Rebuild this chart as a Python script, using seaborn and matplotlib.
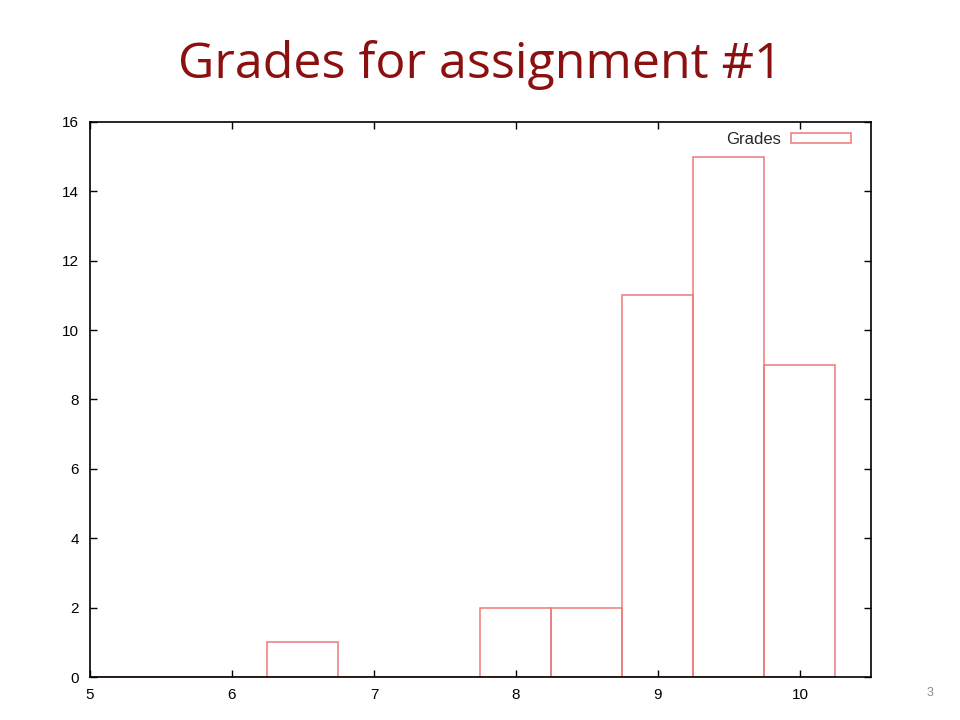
import numpy as np
import pandas as pd
import matplotlib
matplotlib.use("Agg")
import matplotlib.pyplot as plt
import seaborn as sns
from matplotlib.patches import Rectangle

sns.set_style("ticks")
plt.rcParams['font.family'] = ['Liberation Sans', 'DejaVu Sans']

# grade bins (centres) and how many students landed in each
grade_centres = [5.0, 5.5, 6.0, 6.5, 7.0, 7.5, 8.0, 8.5, 9.0, 9.5, 10.0]
grade_counts = [0, 0, 0, 1, 0, 0, 2, 2, 11, 15, 9]
y_ticks = [0, 2, 4, 6, 8, 10, 12, 14, 16]
x_ticks = [5, 6, 7, 8, 9, 10]

df = pd.DataFrame({'grade': grade_centres, 'count': grade_counts})

bar_color = '#ee7b7b'

fig = plt.figure(figsize=(9.6, 7.2), dpi=100)
ax = fig.add_axes([0.09375, 0.0597, 0.8135, 0.771])

sns.histplot(data=df, x='grade', weights='count', binwidth=0.5,
             binrange=(4.75, 10.25), fill=False, color=bar_color,
             linewidth=1.1, ax=ax)

ax.set_xlim(5, 10.5)
ax.set_ylim(0, 16)
ax.set_xticks(x_ticks)
ax.set_yticks(y_ticks)
ax.set_xlabel('')
ax.set_ylabel('')
ax.tick_params(direction='in', length=5, width=1, top=True, right=True,
               labelsize=11, colors='black', pad=8)
for s in ax.spines.values():
    s.set_linewidth(1.2)
    s.set_color('black')

handle = Rectangle((0, 0), 1, 1, fill=False, edgecolor=bar_color, linewidth=1.1)
ax.legend([handle], ['Grades'], loc='upper right', bbox_to_anchor=(0.987, 1.0),
          frameon=False, markerfirst=False, fontsize=12, handlelength=3.6,
          handleheight=0.5, handletextpad=0.6, borderaxespad=0.2)

fig.text(0.5, 0.91, 'Grades for assignment #1', ha='center', va='center',
         fontsize=36.1, color='#8b1010', family=['Open Sans', 'DejaVu Sans'])
fig.text(0.969, 0.038, '3', ha='center', va='center', fontsize=9,
         color='#8c8c8c')

fig.savefig('out.png', dpi=100)
